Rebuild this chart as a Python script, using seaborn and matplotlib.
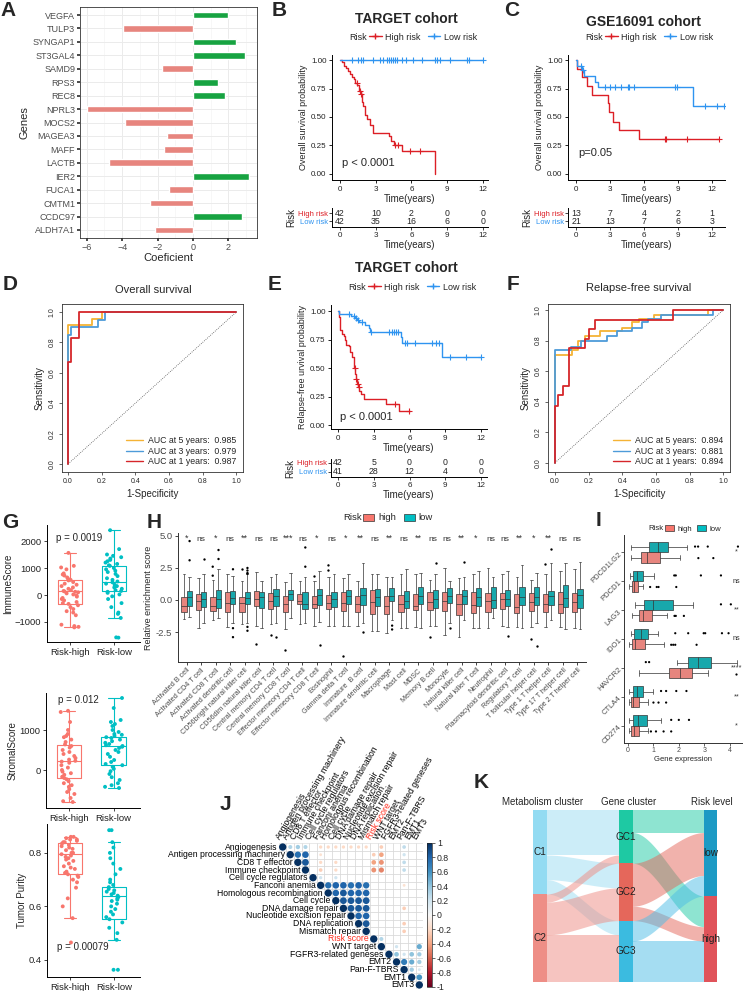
import numpy as np
import pandas as pd
import matplotlib
matplotlib.use("Agg")
import matplotlib.pyplot as plt
import seaborn as sns
from matplotlib.lines import Line2D
from matplotlib.patches import Patch, Rectangle
from matplotlib.cm import ScalarMappable
from matplotlib.colors import Normalize

# ======================= DATA =======================
# A: coefficients
a_genes = ['VEGFA', 'TULP3', 'SYNGAP1', 'ST3GAL4', 'SAMD9', 'RPS3', 'REC8', 'NPRL3', 'MOCS2',
           'MAGEA3', 'MAFF', 'LACTB', 'IER2', 'FUCA1', 'CMTM1', 'CCDC97', 'ALDH7A1']
a_coef = [2.0, -3.94, 2.43, 2.94, -1.77, 1.4, 1.83, -6.0, -3.84, -1.49, -1.62, -4.75, 3.16,
          -1.36, -2.41, 2.79, -2.16]

# B: TARGET overall survival (step points and censor times)
b_high_t = [0, 0.15, 0.3, 0.5, 0.7, 0.85, 1.0, 1.15, 1.3, 1.45, 1.6, 1.75, 1.85, 1.95, 2.1,
            2.3, 2.5, 2.8, 4.1, 4.3, 4.5, 5.2, 8.0]
b_high_s = [1, 0.98, 0.95, 0.93, 0.90, 0.88, 0.85, 0.83, 0.80, 0.78, 0.73, 0.70, 0.63, 0.60,
            0.52, 0.48, 0.43, 0.36, 0.33, 0.29, 0.25, 0.20, 0.0]
b_high_cens = [1.4, 1.7, 1.8, 4.6, 4.9, 5.9, 6.7]
b_low_t = [0, 12.0]
b_low_s = [1.0, 1.0]
b_low_cens = [0.98, 1.54, 1.74, 1.96, 2.8, 3.36, 3.64, 3.92, 4.12, 4.26, 4.43, 4.63, 4.77,
              5.19, 5.52, 6.11, 6.92, 7.99, 8.13, 8.41, 9.25, 10.65, 10.82, 12.0]
b_risk_high = [42, 10, 2, 0, 0]
b_risk_low = [42, 35, 16, 6, 0]

# C: GSE16091 overall survival
c_high_t = [0, 0.1, 0.56, 0.97, 1.38, 2.79, 2.9, 3.3, 3.78, 5.57, 12.6]
c_high_s = [1, 0.92, 0.85, 0.77, 0.69, 0.62, 0.54, 0.46, 0.385, 0.31, 0.31]
c_high_cens = [7.83, 7.95, 9.8, 12.6]
c_low_t = [0, 0.1, 0.5, 0.73, 1.67, 1.9, 10.3, 13.1]
c_low_s = [1, 0.95, 0.91, 0.86, 0.81, 0.76, 0.60, 0.60]
c_low_cens = [0.4, 0.6, 2.55, 3.0, 3.45, 3.96, 4.55, 4.67, 5.08, 8.71, 8.95, 11.41, 12.47, 13.1]
c_risk_high = [13, 7, 4, 2, 1]
c_risk_low = [21, 13, 7, 6, 3]

# E: TARGET relapse-free survival
e_high_t = [0, 0.1, 0.15, 0.2, 0.35, 0.5, 0.6, 0.7, 0.9, 1.0, 1.15, 1.3, 1.35, 1.45, 1.5, 1.6,
            1.7, 1.8, 1.95, 2.2, 4.0, 5.1, 6.0]
e_high_s = [1, 0.95, 0.9, 0.83, 0.8, 0.78, 0.75, 0.7, 0.69, 0.64, 0.6, 0.55, 0.5, 0.45, 0.4,
            0.36, 0.33, 0.3, 0.27, 0.23, 0.18, 0.12, 0.12]
e_high_cens = [1.4, 1.5, 1.65, 1.75, 4.8, 5.95]
e_low_t = [0, 0.1, 1.1, 1.4, 1.6, 1.8, 2.3, 2.6, 2.7, 5.3, 5.4, 8.7, 12.0]
e_low_s = [1, 0.977, 0.955, 0.94, 0.92, 0.9, 0.88, 0.85, 0.82, 0.77, 0.72, 0.6, 0.6]
e_low_cens = [0.9, 1.3, 1.5, 1.7, 2.0, 2.8, 4.3, 4.5, 4.7, 4.9, 5.05, 5.6, 5.8, 6.5, 7.9, 8.2,
              8.5, 9.4, 10.7, 12.0]
e_risk_high = [42, 5, 0, 0, 0]
e_risk_low = [41, 28, 12, 4, 0]

# D: ROC overall survival (corner points)
d5_fpr = [0, 0, 0.14, 0.2, 1];          d5_tpr = [0, 0.917, 0.956, 1, 1]
d3_fpr = [0, 0, 0.016, 0.18, 0.22, 1]; d3_tpr = [0, 0.847, 0.90, 0.95, 1, 1]
d1_fpr = [0, 0, 0.016, 0.064, 1];       d1_tpr = [0, 0.668, 0.83, 1, 1]
d_auc = ['0.985', '0.979', '0.987']

# F: ROC relapse-free survival
f5_fpr = [0, 0, 0.1, 0.135, 0.18, 0.27, 0.4, 0.46, 0.5, 0.59, 0.91, 1]
f5_tpr = [0, 0.707, 0.74, 0.80, 0.83, 0.86, 0.88, 0.92, 0.94, 0.97, 1, 1]
f3_fpr = [0, 0, 0.095, 0.155, 0.31, 0.37, 0.455, 0.515, 0.55, 0.63, 0.94, 1]
f3_tpr = [0, 0.74, 0.76, 0.80, 0.83, 0.86, 0.88, 0.92, 0.94, 0.97, 1, 1]
f1_fpr = [0, 0, 0.016, 0.05, 0.08, 0.18, 0.2, 0.24, 0.7, 1]
f1_tpr = [0, 0.374, 0.44, 0.5, 0.75, 0.81, 0.875, 0.937, 1, 1]
f_auc = ['0.894', '0.881', '0.894']

# G: ESTIMATE scores  (box: whisker-low, Q1, median, Q3, whisker-high)
g1_high = [1560, 1080, 1020, 950, 800, 760, 720, 650, 600, 560, 540, 480, 420, 380, 330, 280,
           230, 180, 150, 130, 120, 100, 60, 20, -20, -60, -110, -150, -200, -260, -300, -330,
           -380, -450, -520, -600, -650, -750, -1100, -1150, -1180, -1200]
g1_low = [2400, 1700, 1500, 1450, 1400, 1350, 1300, 1250, 1200, 1150, 1100, 1080, 1000, 950,
          900, 850, 780, 700, 620, 560, 500, 470, 420, 380, 330, 280, 230, 180, 150, 120, 80,
          20, -50, -150, -300, -450, -650, -700, -850, -1570, -1580]
g1_high_box = [-1200, -320, 130, 560, 1570]
g1_low_box = [-850, 150, 480, 1080, 2400]
g2_high = [1480, 1450, 1200, 1000, 900, 850, 820, 760, 700, 640, 600, 560, 500, 450, 400, 350,
           300, 260, 230, 210, 180, 120, 60, 0, -40, -80, -120, -170, -200, -230, -280, -330,
           -380, -420, -480, -550, -600, -700, -780, -800]
g2_low = [1800, 1550, 1250, 1200, 1150, 1100, 1000, 950, 900, 880, 850, 820, 800, 760, 720,
          680, 650, 620, 600, 580, 550, 500, 450, 400, 330, 250, 200, 150, 120, 80, 30, -30,
          -100, -180, -250, -330, -380, -420, -450]
g2_high_box = [-800, -200, 220, 620, 1480]
g2_low_box = [-450, 130, 600, 820, 1800]
g3_high = [0.86, 0.86, 0.855, 0.85, 0.85, 0.845, 0.84, 0.84, 0.835, 0.83, 0.825, 0.82, 0.815,
           0.81, 0.80, 0.80, 0.795, 0.79, 0.785, 0.78, 0.775, 0.77, 0.76, 0.75, 0.745, 0.74,
           0.73, 0.725, 0.72, 0.715, 0.71, 0.70, 0.69, 0.67, 0.63, 0.60, 0.556, 0.465]
g3_low = [0.885, 0.885, 0.84, 0.82, 0.80, 0.78, 0.76, 0.74, 0.72, 0.70, 0.69, 0.68, 0.672,
          0.665, 0.66, 0.655, 0.65, 0.645, 0.64, 0.635, 0.63, 0.625, 0.62, 0.61, 0.60, 0.59,
          0.58, 0.57, 0.56, 0.552, 0.54, 0.52, 0.50, 0.475, 0.363, 0.363]
g3_high_box = [0.556, 0.72, 0.795, 0.837, 0.86]
g3_low_box = [0.475, 0.552, 0.6375, 0.672, 0.84]

# H: immune cell enrichment (whisker-low, Q1, median, Q3, whisker-high)
h_cells = ['Activated B cell', 'Activated CD4 T cell', 'Activated CD8 T cell',
           'Activated dendritic cell', 'CD56bright natural killer cell',
           'CD56dim natural killer cell', 'Central memory CD4 T cell',
           'Central memory CD8 T cell', 'Effector memeory CD4 T cell',
           'Effector memeory CD8 T cell', 'Eosinophil', 'Gamma delta T cell', 'Immature  B cell',
           'Immature dendritic cell', 'Macrophage', 'Mast cell', 'MDSC', 'Memory B cell',
           'Monocyte', 'Natural killer cell', 'Natural killer T cell', 'Neutrophil',
           'Plasmacytoid dendritic cell', 'Regulatory T cell', 'T follicular helper cell',
           'Type 1 T helper cell', 'Type 17 T helper cell', 'Type 2 T helper cell']
h_high = [(-1.5, -0.9, -0.45, 0.2, 2.0), (-2.2, -0.8, -0.05, 0.45, 1.7), (-1.6, -0.85, -0.5, 0.2, 1.6),
          (-2.1, -0.95, -0.2, 0.6, 2.0), (-1.9, -0.9, -0.25, 0.25, 1.5), (-2.0, -0.45, 0.1, 0.7, 2.2),
          (-1.9, -0.7, -0.1, 0.55, 1.8), (-2.3, -0.9, -0.3, 0.3, 1.4), (-1.9, -0.35, -0.05, 0.45, 1.5),
          (-2.0, -0.6, -0.3, 0.35, 1.5), (-2.0, -0.7, -0.25, 0.4, 1.8), (-2.0, -0.85, -0.25, 0.6, 1.7),
          (-2.0, -0.95, -0.3, 0.3, 1.5), (-2.4, -1.1, -0.15, 0.75, 2.0), (-2.6, -1.1, -0.45, 0.3, 1.8),
          (-2.2, -0.9, -0.3, 0.4, 2.0), (-2.1, -0.8, -0.5, 0.5, 2.0), (-2.0, -0.8, -0.15, 0.6, 1.6),
          (-2.7, -0.85, -0.05, 0.6, 2.5), (-2.9, -1.2, -0.3, 0.45, 1.7), (-2.2, -1.05, -0.4, 0.6, 2.0),
          (-2.2, -0.95, -0.05, 0.55, 2.5), (-2.0, -0.7, 0.05, 0.55, 2.0), (-2.1, -1.0, -0.55, 0.45, 1.8),
          (-2.1, -0.83, -0.13, 0.52, 1.56), (-2.1, -0.9, -0.3, 0.5, 2.0), (-2.1, -1.0, -0.3, 0.6, 2.3),
          (-2.2, -0.9, -0.18, 0.52, 2.4)]
h_low = [(-1.3, -0.45, 0.22, 0.7, 1.8), (-1.8, -0.55, 0.1, 0.65, 2.0), (-1.4, -0.6, 0.05, 0.8, 2.4),
         (-1.8, -0.35, 0.15, 0.7, 1.9), (-1.8, -0.35, 0.15, 0.65, 2.0), (-2.2, -0.6, 0.2, 0.65, 1.5),
         (-1.8, -0.45, 0.3, 0.85, 2.0), (-1.4, 0.0, 0.5, 0.8, 2.1), (-1.8, -0.7, -0.3, 0.6, 1.8),
         (-1.7, -0.4, 0.4, 0.85, 2.3), (-2.0, -0.55, 0.1, 0.6, 2.0), (-2.0, -0.3, 0.35, 0.75, 2.0),
         (-1.8, -0.4, 0.4, 0.95, 2.9), (-2.4, -0.5, 0.2, 0.85, 2.0), (-1.6, -0.05, 0.35, 0.9, 1.8),
         (-2.2, -0.6, -0.05, 0.7, 2.4), (-2.2, -0.35, 0.3, 1.05, 2.1), (-2.0, -0.6, 0.1, 0.75, 2.0),
         (-1.8, -0.2, 0.3, 0.95, 1.5), (-1.6, -0.3, 0.35, 0.75, 1.8), (-2.2, -0.5, 0.25, 0.95, 2.3),
         (-1.4, -0.6, 0.0, 1.0, 1.8), (-2.1, -0.5, 0.05, 0.8, 2.3), (-2.2, -0.4, 0.2, 1.05, 2.7),
         (-1.8, -0.39, 0.26, 1.0, 2.1), (-1.6, -0.39, 0.31, 0.73, 2.9), (-2.3, -0.52, 0.13, 1.2, 2.9),
         (-2.3, -0.6, 0.39, 0.83, 3.0)]
h_out_cell = [0, 0, 1, 2, 2, 2, 2, 3, 3, 3, 4, 4, 4, 4, 4, 4, 4, 5, 6, 6, 7, 8, 8, 9, 9, 10, 10,
              11, 12, 14, 14, 17, 17, 18, 19, 22, 24, 24, 25, 25]
h_out_risk = ['low', 'low', 'low', 'high', 'high', 'low', 'low', 'low', 'low', 'low', 'high',
              'low', 'low', 'low', 'low', 'low', 'low', 'high', 'high', 'low', 'high', 'low', 'low',
              'high', 'low', 'high', 'high', 'high', 'low', 'low', 'low', 'high', 'low', 'low',
              'low', 'low', 'high', 'low', 'high', 'low']
h_out_val = [4.6, 3.1, 3.2, 2.6, 1.9, 3.9, 3.2, 2.4, -2.2, -2.9, 2.4, 2.5, 2.3, 2.1, 2.05, -2.1,
             -2.4, -3.4, -2.7, -2.9, -3.9, 4.1, 2.6, 1.9, -3.5, 2.7, 2.3, -4.4, -2.5, -2.0, -2.3,
             -2.9, 2.9, -2.2, 3.0, -2.8, -3.07, -3.57, 2.8, 4.0]
h_sig = ['*', 'ns', '*', 'ns', '**', 'ns', 'ns', '***', 'ns', '*', 'ns', '*', '**', 'ns', '**',
         'ns', '**', 'ns', 'ns', '**', '*', 'ns', 'ns', '**', '*', '**', 'ns', 'ns']

# I: immune checkpoint expression
i_genes = ['PDCD1LG2', 'PDCD1', 'LAG3', 'IDO1', 'HAVCR2', 'CTLA4', 'CD274']
i_low = [(0.12, 0.84, 1.19, 1.56, 2.31), (0.06, 0.21, 0.34, 0.6, 1.04), (0.28, 0.64, 0.97, 1.76, 2.57),
         (0.1, 0.25, 0.5, 0.8, 1.19), (1.92, 2.38, 2.74, 3.27, 4.3), (0.05, 0.2, 0.35, 0.6, 1.0),
         (0.05, 0.2, 0.4, 0.75, 1.3)]
i_high = [(0.12, 0.51, 0.74, 1.27, 2.05), (0.05, 0.14, 0.24, 0.41, 0.6), (0.14, 0.45, 0.6, 0.93, 1.52),
          (0.05, 0.14, 0.28, 0.67, 1.4), (0.43, 1.61, 2.06, 2.5, 3.14), (0.02, 0.1, 0.2, 0.45, 0.8),
          (0.02, 0.12, 0.22, 0.45, 0.8)]
i_out_gene = [0, 0, 0, 0, 0, 0, 1, 1, 1, 1, 1, 1, 1, 1, 2, 2, 2, 2, 2, 3, 3, 3, 3, 3, 3, 3, 3, 3,
              3, 4, 4, 4, 5, 5, 5, 5, 5, 5, 5, 6, 6, 6, 6, 6, 6, 6]
i_out_risk = ['low', 'low', 'low', 'low', 'high', 'high', 'low', 'low', 'low', 'low', 'high',
              'high', 'high', 'high', 'low', 'low', 'high', 'high', 'high', 'low', 'low', 'low',
              'low', 'low', 'low', 'high', 'high', 'high', 'high', 'low', 'low', 'high', 'low',
              'low', 'low', 'low', 'high', 'high', 'high', 'low', 'low', 'low', 'high', 'high',
              'high', 'high']
i_out_val = [2.64, 2.76, 3.14, 4.33, 2.77, 3.36, 1.82, 1.88, 2.87, 3.66, 0.87, 1.13, 1.2, 1.9,
             3.66, 4.05, 1.83, 1.88, 2.2, 1.86, 2.37, 2.98, 3.04, 3.7, 3.96, 1.7, 1.78, 1.86, 2.7,
             0.7, 0.83, 4.24, 1.3, 1.5, 1.9, 2.3, 1.0, 1.2, 1.5, 1.7, 2.0, 2.4, 0.9, 1.1, 1.4, 1.7]
i_sig = ['*', 'ns', '**', 'ns', '****', '**', '*']

# J: correlation matrix (upper triangle, off-diagonal non-zero entries)
j_vars = ['Angiogenesis', 'Antigen processing machinery', 'CD8 T effector', 'Immune checkpoint',
          'Cell cycle regulators', 'Fanconi anemia', 'Homologous recombination', 'Cell cycle',
          'DNA damage repair', 'Nucleotide excision repair', 'DNA replication', 'Mismatch repair',
          'Risk score', 'WNT target', 'FGFR3-related geneses', 'EMT2', 'Pan-F-TBRS', 'EMT1', 'EMT3']
j_row = [0, 0, 0, 0, 0, 0, 0, 0, 0, 0, 0, 0,
         1, 1, 1, 1, 1, 1,
         2, 2, 2, 2, 2, 2,
         3, 3, 3, 3, 3,
         4, 4,
         5, 5, 5, 5, 5, 5, 5,
         6, 6, 6, 6, 6,
         7, 7, 7, 7,
         8, 8, 8, 8,
         9, 9,
         10, 10,
         11,
         12,
         13, 13,
         14, 14, 14, 14,
         15, 15, 15,
         16, 16,
         17]
j_col = [1, 2, 3, 5, 6, 7, 8, 9, 10, 11, 13, 16,
         2, 3, 5, 12, 13, 16,
         3, 5, 7, 12, 13, 16,
         5, 7, 12, 13, 16,
         5, 7,
         6, 7, 8, 9, 10, 11, 16,
         7, 8, 9, 10, 11,
         8, 9, 10, 11,
         9, 10, 11, 16,
         10, 11,
         11, 16,
         16,
         13,
         15, 18,
         15, 16, 17, 18,
         16, 17, 18,
         17, 18,
         18]
j_r = [0.30, 0.35, 0.30, -0.2, -0.2, -0.2, -0.2, -0.2, -0.2, -0.2, -0.25, 0.25,
       0.75, 0.8, -0.15, -0.25, -0.4, 0.2,
       0.85, -0.2, -0.2, -0.4, -0.45, 0.25,
       -0.25, -0.2, -0.45, -0.5, 0.25,
       0.2, 0.2,
       0.75, 0.8, 0.8, 0.75, 0.8, 0.75, -0.15,
       0.8, 0.85, 0.8, 0.8, 0.8,
       0.85, 0.85, 0.85, 0.85,
       0.85, 0.85, 0.85, -0.25,
       0.8, 0.8,
       0.85, -0.25,
       -0.25,
       0.3,
       0.2, 0.5,
       0.4, 0.2, 0.4, 0.35,
       0.7, 0.5, 0.35,
       0.35, 0.15,
       0.6]

# K: alluvial counts
k_meta = ['C1', 'C2']
k_gene = ['GC1', 'GC2', 'GC3']
k_risk = ['low', 'high']
k_meta_gene = [[22, 12, 7], [4, 16, 23]]
k_gene_risk = [[11, 15], [21, 7], [10, 20]]

# ======================= STYLE =======================
sns.set_theme(style="white")
plt.rcParams['font.family'] = ['Liberation Sans', 'DejaVu Sans']
plt.rcParams['axes.linewidth'] = 0.6

RED_KM, BLUE_KM = '#DC1F26', '#2F94F0'
C_HIGH, C_LOW = '#F8766D', '#00BFC4'
ROC_COL = ['#F5B335', '#4D9BD9', '#D6262A']

W, H = 745, 991
fig = plt.figure(figsize=(W / 100, H / 100), dpi=100)


def axpx(l, t, r, b):
    return fig.add_axes([l / W, 1 - b / H, (r - l) / W, (b - t) / H])


def ftext(x, y, s, **kw):
    fig.text(x / W, 1 - y / H, s, **kw)


def letter(x, y, s):
    ftext(x, y, s, fontsize=15, fontweight='bold', ha='left', va='center')


def surv_at(t, s, c):
    idx = np.searchsorted(np.asarray(t), np.asarray(c), side='right') - 1
    return np.asarray(s)[idx]


# ---------------- A ----------------
ax = axpx(80, 7, 257, 238)
dfa = pd.DataFrame({'gene': a_genes, 'coef': a_coef})
dfa['dir'] = np.where(dfa['coef'] > 0, 'pos', 'neg')
sns.barplot(data=dfa, x='coef', y='gene', hue='dir', palette={'pos': '#00BA38', 'neg': '#F8766D'},
            orient='h', width=0.5, dodge=False, legend=False, ax=ax, order=a_genes)
ax.set_xlim(-6.38, 3.62)
ax.set_ylim(16.6, -0.6)
ax.set_xticks([-6, -4, -2, 0, 2])
ax.set_xticks([-5, -3, -1, 1, 3], minor=True)
ax.grid(True, which='major', color='#EBEBEB', lw=0.7)
ax.grid(True, which='minor', axis='x', color='#F4F4F4', lw=0.5)
ax.set_axisbelow(True)
for sp in ax.spines.values():
    sp.set_visible(True); sp.set_color('#333333'); sp.set_linewidth(0.6)
ax.tick_params(which='major', length=2, color='#333333', labelsize=6.5, labelcolor='#4D4D4D',
               bottom=True, left=True, pad=1.5)
ax.tick_params(which='minor', length=0)
ax.set_xlabel('Coeficient', fontsize=8, labelpad=1)
ax.set_ylabel('Genes', fontsize=8, labelpad=2)
letter(0, 10, 'A')


# ---------------- KM helpers ----------------
def km_axes(ax, curves, xlim, ylim, ylabel):
    for t, s, c, col in curves:
        sns.lineplot(x=t, y=s, ax=ax, color=col, lw=1.0, drawstyle='steps-post',
                     estimator=None, sort=False)
        ax.plot(c, surv_at(t, s, c), ls='none', marker='+', ms=3.8, mew=0.8, color=col)
    ax.set_xlim(*xlim); ax.set_ylim(*ylim)
    ax.set_xticks([0, 3, 6, 9, 12])
    ax.set_yticks([0, 0.25, 0.5, 0.75, 1.0])
    ax.set_yticklabels(['0.00', '0.25', '0.50', '0.75', '1.00'])
    for sp in ['top', 'right']:
        ax.spines[sp].set_visible(False)
    for sp in ['left', 'bottom']:
        ax.spines[sp].set_color('black'); ax.spines[sp].set_linewidth(0.7)
    ax.tick_params(labelsize=5.8, length=2.5, width=0.6, bottom=True, left=True, pad=1.5,
                   color='black', labelcolor='#222222')
    ax.set_xlabel('Time(years)', fontsize=7, labelpad=1)
    ax.set_ylabel(ylabel, fontsize=6.5, labelpad=2)


def km_legend(x, y):
    ftext(x, y, 'Risk', fontsize=6.5, va='center', ha='left')
    hs = [Line2D([], [], color=RED_KM, marker='+', lw=1.0, ms=4),
          Line2D([], [], color=BLUE_KM, marker='+', lw=1.0, ms=4)]
    fig.legend(hs, ['High risk', 'Low risk'], loc='center left',
               bbox_to_anchor=((x + 20) / W, 1 - y / H), ncol=2, frameon=False, fontsize=6.5,
               handlelength=1.4, handletextpad=0.4, columnspacing=0.8, borderpad=0,
               borderaxespad=0)


def risk_table(ax, xlim, ylim, hi, lo):
    ax.set_xlim(*xlim); ax.set_ylim(*ylim)
    for k, tt in enumerate([0, 3, 6, 9, 12]):
        ax.text(tt, 1, str(hi[k]), ha='center', va='center', fontsize=6.3)
        ax.text(tt, 0, str(lo[k]), ha='center', va='center', fontsize=6.3)
    ax.set_yticks([1, 0])
    ax.set_yticklabels(['High risk', 'Low risk'], fontsize=5.5)
    ax.get_yticklabels()[0].set_color(RED_KM)
    ax.get_yticklabels()[1].set_color(BLUE_KM)
    ax.set_xticks([0, 3, 6, 9, 12])
    for sp in ['top', 'right']:
        ax.spines[sp].set_visible(False)
    for sp in ['left', 'bottom']:
        ax.spines[sp].set_color('black'); ax.spines[sp].set_linewidth(0.7)
    ax.tick_params(axis='x', labelsize=5.8, length=2.5, width=0.6, bottom=True, pad=1)
    ax.tick_params(axis='y', length=2, width=0.6, left=True, pad=1)
    ax.set_ylabel('Risk', fontsize=7, labelpad=1)
    ax.set_xlabel('Time(years)', fontsize=7, labelpad=1)


# ---------------- B ----------------
ax = axpx(332, 55, 488, 180)
km_axes(ax, [(b_high_t, b_high_s, b_high_cens, RED_KM), (b_low_t, b_low_s, b_low_cens, BLUE_KM)],
        (-0.67, 12.42), (-0.053, 1.044), 'Overall survival probability')
ftext(342, 163, 'p < 0.0001', fontsize=8, va='center')
ftext(406, 19, 'TARGET cohort', fontsize=10, fontweight='bold', ha='center', va='center')
km_legend(349, 37)
ax = axpx(332, 208, 488, 227)
risk_table(ax, (-0.67, 12.42), (-0.75, 1.625), b_risk_high, b_risk_low)
letter(272, 10, 'B')

# ---------------- C ----------------
ax = axpx(568, 55, 725, 180)
km_axes(ax, [(c_high_t, c_high_s, c_high_cens, RED_KM), (c_low_t, c_low_s, c_low_cens, BLUE_KM)],
        (-0.71, 13.15), (-0.053, 1.044), 'Overall survival probability')
ftext(578, 153, 'p=0.05', fontsize=8, va='center')
ftext(643, 22, 'GSE16091 cohort', fontsize=10, fontweight='bold', ha='center', va='center')
km_legend(585, 37)
ax = axpx(568, 208, 725, 227)
risk_table(ax, (-0.71, 13.15), (-0.75, 1.625), c_risk_high, c_risk_low)
letter(504, 10, 'C')

# ---------------- E ----------------
ax = axpx(331, 305, 487, 429)
km_axes(ax, [(e_high_t, e_high_s, e_high_cens, RED_KM), (e_low_t, e_low_s, e_low_cens, BLUE_KM)],
        (-0.59, 12.5), (-0.035, 1.053), 'Relapse-free urvival probability')
ftext(340, 417, 'p < 0.0001', fontsize=8, va='center')
ftext(406, 268, 'TARGET cohort', fontsize=10, fontweight='bold', ha='center', va='center')
km_legend(348, 287)
ax = axpx(331, 459, 487, 477)
risk_table(ax, (-0.59, 12.5), (-0.56, 1.44), e_risk_high, e_risk_low)
letter(268, 284, 'E')


# ---------------- ROC helpers ----------------
def roc_axes(ax, curves, aucs, xlim, ylim):
    ax.plot([0, 1], [0, 1], ls=(0, (1, 1.5)), color='#555555', lw=0.6)
    for (fpr, tpr), col in zip(curves, ROC_COL):
        sns.lineplot(x=fpr, y=tpr, ax=ax, color=col, lw=1.3, drawstyle='steps-post',
                     estimator=None, sort=False)
    ax.set_xlim(*xlim); ax.set_ylim(*ylim)
    ticks = [0, 0.2, 0.4, 0.6, 0.8, 1.0]
    ax.set_xticks(ticks); ax.set_yticks(ticks)
    ax.set_xticklabels(['0.0', '0.2', '0.4', '0.6', '0.8', '1.0'])
    ax.set_yticklabels(['0.0', '0.2', '0.4', '0.6', '0.8', '1.0'], rotation=90, va='center')
    for sp in ax.spines.values():
        sp.set_visible(True); sp.set_color('#333333'); sp.set_linewidth(0.6)
    ax.tick_params(labelsize=5, length=2.5, width=0.5, bottom=True, left=True, pad=2)
    ax.set_xlabel('1-Specificity', fontsize=7, labelpad=3)
    ax.set_ylabel('Sensitivity', fontsize=7, labelpad=3)
    hs = [Line2D([], [], color=c, lw=1.0) for c in ROC_COL]
    labs = ['AUC at 5 years:  ' + aucs[0], 'AUC at 3 years:  ' + aucs[1],
            'AUC at 1 years:  ' + aucs[2]]
    ax.legend(hs, labs, loc='lower right', frameon=False, fontsize=6.3, handlelength=2.0,
              handletextpad=0.6, labelspacing=0.15, borderaxespad=0.3)


ax = axpx(62, 304, 243, 472)
roc_axes(ax, [(d5_fpr, d5_tpr), (d3_fpr, d3_tpr), (d1_fpr, d1_tpr)], d_auc,
         (-0.036, 1.04), (-0.053, 1.053))
ftext(153, 290, 'Overall survival', fontsize=8, ha='center', va='center')
letter(3, 284, 'D')

ax = axpx(548, 304, 730, 472)
roc_axes(ax, [(f5_fpr, f5_tpr), (f3_fpr, f3_tpr), (f1_fpr, f1_tpr)], f_auc,
         (-0.042, 1.04), (-0.061, 1.039))
ftext(639, 288, 'Relapse-free survival', fontsize=8, ha='center', va='center')
letter(507, 284, 'F')

# ---------------- G ----------------
G_ORDER = ['Risk-high', 'Risk-low']
G_PAL = {'Risk-high': C_HIGH, 'Risk-low': C_LOW}


def g_panel(ax, hi_pts, lo_pts, hi_box, lo_box, ylim, yticks, ylabel, seed):
    pts = pd.DataFrame({'grp': ['Risk-high'] * len(hi_pts) + ['Risk-low'] * len(lo_pts),
                        'val': list(hi_pts) + list(lo_pts)})
    box = pd.DataFrame({'grp': ['Risk-high'] * 5 + ['Risk-low'] * 5,
                        'val': list(hi_box) + list(lo_box)})
    sns.boxplot(data=box, x='grp', y='val', hue='grp', palette=G_PAL, order=G_ORDER,
                fill=False, whis=(0, 100), showfliers=False, width=0.55, linewidth=0.8,
                legend=False, ax=ax)
    np.random.seed(seed)
    sns.stripplot(data=pts, x='grp', y='val', hue='grp', palette=G_PAL, order=G_ORDER,
                  jitter=0.2, size=2.8, legend=False, ax=ax)
    ax.set_xlim(-0.52, 1.59); ax.set_ylim(*ylim)
    ax.set_yticks(yticks)
    for sp in ['top', 'right']:
        ax.spines[sp].set_visible(False)
    for sp in ['left', 'bottom']:
        ax.spines[sp].set_color('black'); ax.spines[sp].set_linewidth(0.7)
    ax.tick_params(labelsize=6.8, length=2.5, width=0.6, bottom=True, left=True, pad=1.5,
                   labelcolor='#222222')
    ax.set_xlabel('')
    ax.set_ylabel(ylabel, fontsize=7, labelpad=1)


ax = axpx(47, 525, 140, 642)
g_panel(ax, g1_high, g1_low, g1_high_box, g1_low_box, (-1741, 2593), [-1000, 0, 1000, 2000],
        'ImmuneScore', 1)
ftext(56, 538, 'p = 0.0019', fontsize=7, va='center')
ax = axpx(46, 693, 140, 808)
g_panel(ax, g2_high, g2_low, g2_high_box, g2_low_box, (-950, 1925), [0, 1000],
        'StromalScore', 2)
ftext(58, 700, 'p = 0.012', fontsize=7, va='center')
ax = axpx(47, 824, 140, 977)
g_panel(ax, g3_high, g3_low, g3_high_box, g3_low_box, (0.336, 0.908), [0.4, 0.6, 0.8],
        'Tumor Purity', 3)
ftext(57, 947, 'p = 0.00079', fontsize=7, va='center')
letter(2, 523, 'G')

# ---------------- H ----------------
ax = axpx(178, 533, 586, 662)
rows = []
for k, cell in enumerate(h_cells):
    for risk, st in (('high', h_high[k]), ('low', h_low[k])):
        for v in st:
            rows.append((cell, risk, v))
dfh = pd.DataFrame(rows, columns=['cell', 'risk', 'val'])
sns.boxplot(data=dfh, x='cell', y='val', hue='risk', order=h_cells, hue_order=['high', 'low'],
            palette={'high': C_HIGH, 'low': C_LOW}, whis=(0, 100), showfliers=False, width=0.72,
            linewidth=0.5, linecolor='#333333', legend=False, ax=ax)
dfo = pd.DataFrame({'cell': [h_cells[i] for i in h_out_cell], 'risk': h_out_risk,
                    'val': h_out_val})
sns.stripplot(data=dfo, x='cell', y='val', hue='risk', order=h_cells, hue_order=['high', 'low'],
              palette={'high': 'black', 'low': 'black'}, dodge=True, jitter=False, size=1.7,
              legend=False, ax=ax)
for k, s in enumerate(h_sig):
    ax.text(k, 4.85 if s != 'ns' else 4.75, s, ha='center', va='center',
            fontsize=6 if s == 'ns' else 6.5, color='#333333')
ax.set_xlim(-0.6, 27.6); ax.set_ylim(-4.84, 5.23)
ax.set_yticks([-2.5, 0, 2.5, 5.0])
ax.set_yticklabels(['-2.5', '0.0', '2.5', '5.0'])
for sp in ['top', 'right']:
    ax.spines[sp].set_visible(False)
for sp in ['left', 'bottom']:
    ax.spines[sp].set_color('#333333'); ax.spines[sp].set_linewidth(0.7)
ax.tick_params(axis='y', labelsize=6.8, length=2.5, width=0.6, left=True, pad=1.5,
               labelcolor='#4D4D4D')
ax.tick_params(axis='x', labelsize=5.2, length=2.5, width=0.6, bottom=True, pad=1,
               labelcolor='#4D4D4D')
plt.setp(ax.get_xticklabels(), rotation=45, ha='right', rotation_mode='anchor')
ax.set_xlabel('')
ax.set_ylabel('Relative enrichment score', fontsize=6.5, labelpad=2)
ftext(343, 518, 'Risk', fontsize=6.8, va='center')
fig.legend([Patch(fc=C_HIGH, ec='#333333', lw=0.5), Patch(fc=C_LOW, ec='#333333', lw=0.5)],
           ['high', 'low'], loc='center left', bbox_to_anchor=(363 / W, 1 - 518 / H), ncol=2,
           frameon=False, fontsize=6.8, handlelength=1.2, handleheight=0.8, handletextpad=0.4,
           columnspacing=0.8, borderpad=0, borderaxespad=0)
letter(147, 522, 'H')

# ---------------- I ----------------
ax = axpx(624, 535, 742, 743)
rows = []
for k, g in enumerate(i_genes):
    for risk, st in (('low', i_low[k]), ('high', i_high[k])):
        for v in st:
            rows.append((g, risk, v))
dfi = pd.DataFrame(rows, columns=['gene', 'risk', 'val'])
sns.boxplot(data=dfi, x='val', y='gene', hue='risk', order=i_genes, hue_order=['low', 'high'],
            palette={'high': C_HIGH, 'low': C_LOW}, whis=(0, 100), showfliers=False, width=0.72,
            linewidth=0.5, linecolor='#333333', legend=False, orient='h', ax=ax)
dfio = pd.DataFrame({'gene': [i_genes[i] for i in i_out_gene], 'risk': i_out_risk,
                     'val': i_out_val})
sns.stripplot(data=dfio, x='val', y='gene', hue='risk', order=i_genes, hue_order=['low', 'high'],
              palette={'high': 'black', 'low': 'black'}, dodge=True, jitter=False, size=1.6,
              legend=False, orient='h', ax=ax)
for k, s in enumerate(i_sig):
    ax.text(4.28, k, s, ha='center', va='center', fontsize=5.2, color='#333333')
ax.set_xlim(-0.16, 4.49); ax.set_ylim(6.6, -0.6)
ax.set_xticks([0, 1, 2, 3, 4])
for sp in ['top', 'right']:
    ax.spines[sp].set_visible(False)
for sp in ['left', 'bottom']:
    ax.spines[sp].set_color('#333333'); ax.spines[sp].set_linewidth(0.7)
ax.tick_params(axis='x', labelsize=5, length=2, width=0.5, bottom=True, pad=1,
               labelcolor='#4D4D4D')
ax.tick_params(axis='y', labelsize=5.5, length=2, width=0.5, left=True, pad=1,
               labelcolor='#4D4D4D')
plt.setp(ax.get_yticklabels(), rotation=45, ha='right', rotation_mode='anchor')
ax.set_xlabel('Gene expression', fontsize=5.5, labelpad=1)
ax.set_ylabel('')
ftext(648, 529, 'Risk', fontsize=5.6, va='center')
fig.legend([Patch(fc=C_HIGH, ec='#333333', lw=0.5), Patch(fc=C_LOW, ec='#333333', lw=0.5)],
           ['high', 'low'], loc='center left', bbox_to_anchor=(665 / W, 1 - 529 / H), ncol=2,
           frameon=False, fontsize=5.6, handlelength=1.2, handleheight=0.8, handletextpad=0.4,
           columnspacing=0.6, borderpad=0, borderaxespad=0)
letter(596, 520, 'I')

# ---------------- J ----------------
ax = axpx(278.9, 843.2, 423.1, 988.8)
n = len(j_vars)
corr = np.eye(n)
for a, b, v in zip(j_row, j_col, j_r):
    corr[a, b] = v
for r in range(n):
    for c in range(r, n):
        ax.add_patch(Rectangle((c - 0.5, r - 0.5), 1, 1, fill=False, ec='#D9D9D9', lw=0.4))
rr, cc = np.triu_indices(n)
vals = corr[rr, cc]
m = vals != 0
ax.scatter(cc[m], rr[m], c=vals[m], cmap='RdBu', vmin=-1, vmax=1, s=28 * np.abs(vals[m]),
           edgecolors='none', zorder=3)
ax.set_xlim(-0.5, n - 0.5); ax.set_ylim(n - 0.5, -0.5)
ax.axis('off')
for i, name in enumerate(j_vars):
    col = '#FF2A1A' if name == 'Risk score' else 'black'
    ax.text(i - 0.7, i, name, ha='right', va='center', fontsize=6.2, color=col)
    ax.text(i - 0.15, -0.75, name, ha='left', va='bottom', rotation=60,
            rotation_mode='anchor', fontsize=6.2, color=col)
cax = axpx(427, 843, 432, 987)
cb = fig.colorbar(ScalarMappable(norm=Normalize(-1, 1), cmap='RdBu'), cax=cax,
                  ticks=np.round(np.linspace(-1, 1, 11), 1))
cb.ax.set_yticklabels(['-1', '-0.8', '-0.6', '-0.4', '-0.2', '0', '0.2', '0.4', '0.6', '0.8', '1'])
cb.ax.tick_params(labelsize=6.3, length=2, width=0.5, pad=1.5)
cb.outline.set_linewidth(0.5)
letter(220, 804, 'J')

# ---------------- K ----------------
ax = axpx(533, 810, 717, 982)
meta_sizes = [sum(r) for r in k_meta_gene]
gene_sizes = [sum(k_meta_gene[i][j] for i in range(len(k_meta))) for j in range(len(k_gene))]
risk_sizes = [sum(k_gene_risk[i][j] for i in range(len(k_gene))) for j in range(len(k_risk))]
total = sum(meta_sizes)
ax.set_xlim(533, 717); ax.set_ylim(total, 0); ax.axis('off')
XS = [533, 619, 704]
SW = 13.5


def starts(sizes):
    return np.concatenate([[0], np.cumsum(sizes)[:-1]])


def ribbon(x0, x1, a0, b0, a1, b1, color):
    xs = np.linspace(x0, x1, 80)
    u = (xs - x0) / (x1 - x0)
    f = u * u * (3 - 2 * u)
    ax.fill_between(xs, a0 + (a1 - a0) * f, b0 + (b1 - b0) * f, color=color, alpha=0.5, lw=0)


ms, gs, rs = starts(meta_sizes), starts(gene_sizes), starts(risk_sizes)
flow1_col = ['#9ADCF2', '#EE8B82']
for i in range(len(k_meta)):
    for j in range(len(k_gene)):
        v = k_meta_gene[i][j]
        a0 = ms[i] + sum(k_meta_gene[i][:j])
        a1 = gs[j] + sum(k_meta_gene[ii][j] for ii in range(i))
        ribbon(XS[0] + SW, XS[1], a0, a0 + v, a1, a1 + v, flow1_col[i])
flow2_col = ['#1FCBA5', '#E5665A', '#4DBDE6']
for j in range(len(k_gene)):
    for k in range(len(k_risk)):
        v = k_gene_risk[j][k]
        a0 = gs[j] + sum(k_gene_risk[j][:k])
        a1 = rs[k] + sum(k_gene_risk[jj][k] for jj in range(j))
        ribbon(XS[1] + SW, XS[2], a0, a0 + v, a1, a1 + v, flow2_col[j])
strata = [(XS[0], k_meta, meta_sizes, ms, ['#93DBF2', '#EE8E86']),
          (XS[1], k_gene, gene_sizes, gs, ['#1EC9A3', '#E5675B', '#3BBBE0']),
          (XS[2], k_risk, risk_sizes, rs, ['#1C9AC4', '#E0535A'])]
for x, names, sizes, st, cols in strata:
    for nm, sz, s0, col in zip(names, sizes, st, cols):
        ax.add_patch(Rectangle((x, s0), SW, sz, fc=col, ec='none', zorder=3))
        ax.text(x + SW / 2, s0 + sz / 2, nm, ha='center', va='center', fontsize=7.2, zorder=4,
                color='#222222')
ftext(543, 802, 'Metabolism cluster', fontsize=7, ha='center', va='center')
ftext(629, 802, 'Gene cluster', fontsize=7, ha='center', va='center')
ftext(712, 802, 'Risk level', fontsize=7, ha='center', va='center')
letter(474, 783, 'K')

fig.savefig('out.png', dpi=100)
